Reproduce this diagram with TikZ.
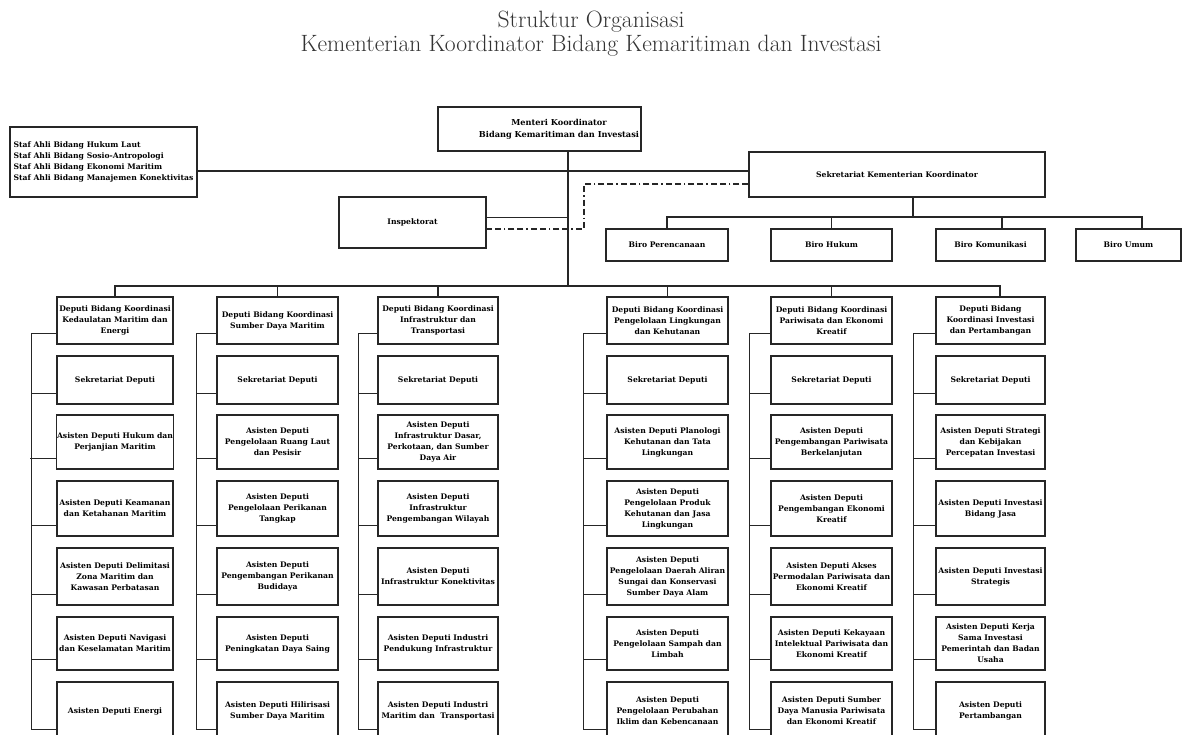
\documentclass[tikz,border=0pt]{standalone}
\usepackage{fontspec}
\newfontfamily\boxfont{DejaVu Serif}
\usepackage{tikz}

\begin{document}
\begin{tikzpicture}[x=1pt, y=-1pt,
    box/.style={draw=black!85, line width=1.1pt, align=center, inner sep=1pt,
      font=\boxfont\bfseries\fontsize{7.65}{11}\selectfont},
    link/.style={draw=black!85, line width=1.1pt, line cap=rect},
    dashlink/.style={draw=black!85, line width=1.1pt,
      dash pattern=on 6pt off 3pt on 6pt off 3pt on 1.5pt off 3pt},
    % column widths
    c1/.style={minimum width=116}, c2/.style={minimum width=121},
    c3/.style={minimum width=120}, c4/.style={minimum width=121},
    c5/.style={minimum width=121}, c6/.style={minimum width=109},
    % row heights
    r0/.style={minimum height=47}, r1/.style={minimum height=48},
    r2/.style={minimum height=54}, r3/.style={minimum height=55},
    r4/.style={minimum height=57}, r5/.style={minimum height=53},
    r6/.style={minimum height=58}]
    \useasboundingbox (0,0) rectangle (1183,735);
    \clip (0,0) rectangle (1183,735);
    % Title
    \node[font=\fontsize{23.6}{24}\selectfont, text=black!80, align=center] (title) at (591,34)
      {Struktur Organisasi\\Kementerian Koordinator Bidang Kemaritiman dan Investasi};
    % Top level
    \node[box, minimum width=203, minimum height=44] (menteri) at (539.5,129) {};
    \node[font=\boxfont\bfseries\fontsize{8.2}{12}\selectfont, align=center] (mentext) at (559,129)
      {Menteri Koordinator\\Bidang Kemaritiman dan Investasi};
    \node[box, align=left, minimum width=187, minimum height=70] (staf) at (103.5,162)
      {Staf Ahli Bidang Hukum Laut\\Staf Ahli Bidang Sosio-Antropologi\\
       Staf Ahli Bidang Ekonomi Maritim\\Staf Ahli Bidang Manajemen Konektivitas};
    \node[box, minimum width=296, minimum height=45] (sekr) at (897,174.5) {Sekretariat Kementerian Koordinator};
    \node[box, minimum width=147, minimum height=51] (insp) at (412.5,222.5) {Inspektorat};
    % Biro
    \node[box, minimum width=122, minimum height=32] (biro1) at (667,245) {Biro Perencanaan};
    \node[box, minimum width=121, minimum height=32] (biro2) at (831.5,245) {Biro Hukum};
    \node[box, minimum width=109, minimum height=32] (biro3) at (990.5,245) {Biro Komunikasi};
    \node[box, minimum width=105, minimum height=32] (biro4) at (1128.5,245) {Biro Umum};
    % Column 1
    \node[box,c1,r0] (k1-0) at (115,320.5) {Deputi Bidang Koordinasi\\Kedaulatan Maritim dan\\Energi};
    \node[box,c1,r1] (k1-1) at (115,380) {Sekretariat Deputi};
    \node[box,c1,r2] (k1-2) at (115,442) {Asisten Deputi Hukum dan\\Perjanjian Maritim};
    \node[box,c1,r3] (k1-3) at (115,508.5) {Asisten Deputi Keamanan\\dan Ketahanan Maritim};
    \node[box,c1,r4] (k1-4) at (115,576.5) {Asisten Deputi Delimitasi\\Zona Maritim dan\\Kawasan Perbatasan};
    \node[box,c1,r5] (k1-5) at (115,643.5) {Asisten Deputi Navigasi\\dan Keselamatan Maritim};
    \node[box,c1,r6] (k1-6) at (115,711) {Asisten Deputi Energi};
    % Column 2
    \node[box,c2,r0] (k2-0) at (277.5,320.5) {Deputi Bidang Koordinasi\\Sumber Daya Maritim};
    \node[box,c2,r1] (k2-1) at (277.5,380) {Sekretariat Deputi};
    \node[box,c2,r2] (k2-2) at (277.5,442) {Asisten Deputi\\Pengelolaan Ruang Laut\\dan Pesisir};
    \node[box,c2,r3] (k2-3) at (277.5,508.5) {Asisten Deputi\\Pengelolaan Perikanan\\Tangkap};
    \node[box,c2,r4] (k2-4) at (277.5,576.5) {Asisten Deputi\\Pengembangan Perikanan\\Budidaya};
    \node[box,c2,r5] (k2-5) at (277.5,643.5) {Asisten Deputi\\Peningkatan Daya Saing};
    \node[box,c2,r6] (k2-6) at (277.5,711) {Asisten Deputi Hilirisasi\\Sumber Daya Maritim};
    % Column 3
    \node[box,c3,r0] (k3-0) at (438,320.5) {Deputi Bidang Koordinasi\\Infrastruktur dan\\Transportasi};
    \node[box,c3,r1] (k3-1) at (438,380) {Sekretariat Deputi};
    \node[box,c3,r2] (k3-2) at (438,442) {Asisten Deputi\\Infrastruktur Dasar,\\Perkotaan, dan Sumber\\Daya Air};
    \node[box,c3,r3] (k3-3) at (438,508.5) {Asisten Deputi\\Infrastruktur\\Pengembangan Wilayah};
    \node[box,c3,r4] (k3-4) at (438,576.5) {Asisten Deputi\\Infrastruktur Konektivitas};
    \node[box,c3,r5] (k3-5) at (438,643.5) {Asisten Deputi Industri\\Pendukung Infrastruktur};
    \node[box,c3,r6] (k3-6) at (438,711) {Asisten Deputi Industri\\Maritim dan\ \ Transportasi};
    % Column 4
    \node[box,c4,r0] (k4-0) at (667.5,320.5) {Deputi Bidang Koordinasi\\Pengelolaan Lingkungan\\dan Kehutanan};
    \node[box,c4,r1] (k4-1) at (667.5,380) {Sekretariat Deputi};
    \node[box,c4,r2] (k4-2) at (667.5,442) {Asisten Deputi Planologi\\Kehutanan dan Tata\\Lingkungan};
    \node[box,c4,r3] (k4-3) at (667.5,508.5) {Asisten Deputi\\Pengelolaan Produk\\Kehutanan dan Jasa\\Lingkungan};
    \node[box,c4,r4] (k4-4) at (667.5,576.5) {Asisten Deputi\\Pengelolaan Daerah Aliran\\Sungai dan Konservasi\\Sumber Daya Alam};
    \node[box,c4,r5] (k4-5) at (667.5,643.5) {Asisten Deputi\\Pengelolaan Sampah dan\\Limbah};
    \node[box,c4,r6] (k4-6) at (667.5,711) {Asisten Deputi\\Pengelolaan Perubahan\\Iklim dan Kebencanaan};
    % Column 5
    \node[box,c5,r0] (k5-0) at (831.5,320.5) {Deputi Bidang Koordinasi\\Pariwisata dan Ekonomi\\Kreatif};
    \node[box,c5,r1] (k5-1) at (831.5,380) {Sekretariat Deputi};
    \node[box,c5,r2] (k5-2) at (831.5,442) {Asisten Deputi\\Pengembangan Pariwisata\\Berkelanjutan};
    \node[box,c5,r3] (k5-3) at (831.5,508.5) {Asisten Deputi\\Pengembangan Ekonomi\\Kreatif};
    \node[box,c5,r4] (k5-4) at (831.5,576.5) {Asisten Deputi Akses\\Permodalan Pariwisata dan\\Ekonomi Kreatif};
    \node[box,c5,r5] (k5-5) at (831.5,643.5) {Asisten Deputi Kekayaan\\Intelektual Pariwisata dan\\Ekonomi Kreatif};
    \node[box,c5,r6] (k5-6) at (831.5,711) {Asisten Deputi Sumber\\Daya Manusia Pariwisata\\dan Ekonomi Kreatif};
    % Column 6
    \node[box,c6,r0] (k6-0) at (990.5,320.5) {Deputi Bidang\\Koordinasi Investasi\\dan Pertambangan};
    \node[box,c6,r1] (k6-1) at (990.5,380) {Sekretariat Deputi};
    \node[box,c6,r2] (k6-2) at (990.5,442) {Asisten Deputi Strategi\\dan Kebijakan\\Percepatan Investasi};
    \node[box,c6,r3] (k6-3) at (990.5,508.5) {Asisten Deputi Investasi\\Bidang Jasa};
    \node[box,c6,r4] (k6-4) at (990.5,576.5) {Asisten Deputi Investasi\\Strategis};
    \node[box,c6,r5] (k6-5) at (990.5,643.5) {Asisten Deputi Kerja\\Sama Investasi\\Pemerintah dan Badan\\Usaha};
    \node[box,c6,r6] (k6-6) at (990.5,711) {Asisten Deputi\\Pertambangan};
    % Helper points
    \coordinate (spine) at (568,286);
    \coordinate (bbus) at (913,217);
    \coordinate (bend) at (584,0);
    \coordinate (stafR) at ([yshift=-9pt]staf.east);
    \coordinate (inspR) at ([yshift=5pt]insp.east);
    \coordinate (dashR) at ([yshift=-9.5pt]sekr.west);
    \coordinate (dashL) at ([yshift=-6.5pt]insp.east);
    \coordinate (d6) at ([xshift=9.5pt]k6-0.north);
    \coordinate (b3) at ([xshift=11.5pt]biro3.north);
    \coordinate (b4) at ([xshift=13.5pt]biro4.north);
    % Main lines
    \draw[link] (menteri.south -| spine) -- (spine);
    \draw[link] (stafR) -- (stafR -| sekr.west);
    \draw[link] (inspR) -- (inspR -| spine);
    \draw[dashlink] (dashR) -- (dashR -| bend) -- (dashL -| bend) -- (dashL);
    % Biro bus
    \draw[link] (sekr.south -| bbus) -- (bbus);
    \draw[link] (biro1.north |- bbus) -- (b4 |- bbus);
    \draw[link] (biro1.north) -- (biro1.north |- bbus);
    \draw[link] (biro2.north) -- (biro2.north |- bbus);
    \draw[link] (b3) -- (b3 |- bbus);
    \draw[link] (b4) -- (b4 |- bbus);
    % Deputi bus
    \draw[link] (k1-0.north |- spine) -- (d6 |- spine);
    \foreach \c in {1,...,5}
      \draw[link] (k\c-0.north) -- (k\c-0.north |- spine);
    \draw[link] (d6) -- (d6 |- spine);
    % Brackets
    \foreach \c/\g in {1/25,2/20,3/19,4/23,5/21,6/22}{
      \draw[link] ([xshift=-\g pt, yshift=11pt]k\c-0.south west) -- ([xshift=-\g pt, yshift=11pt]k\c-6.south west);
      \foreach \r in {0,...,6}
        \draw[link] ([yshift=11pt]k\c-\r.south west) -- ++(-\g,0);
    }
\end{tikzpicture}
\end{document}
